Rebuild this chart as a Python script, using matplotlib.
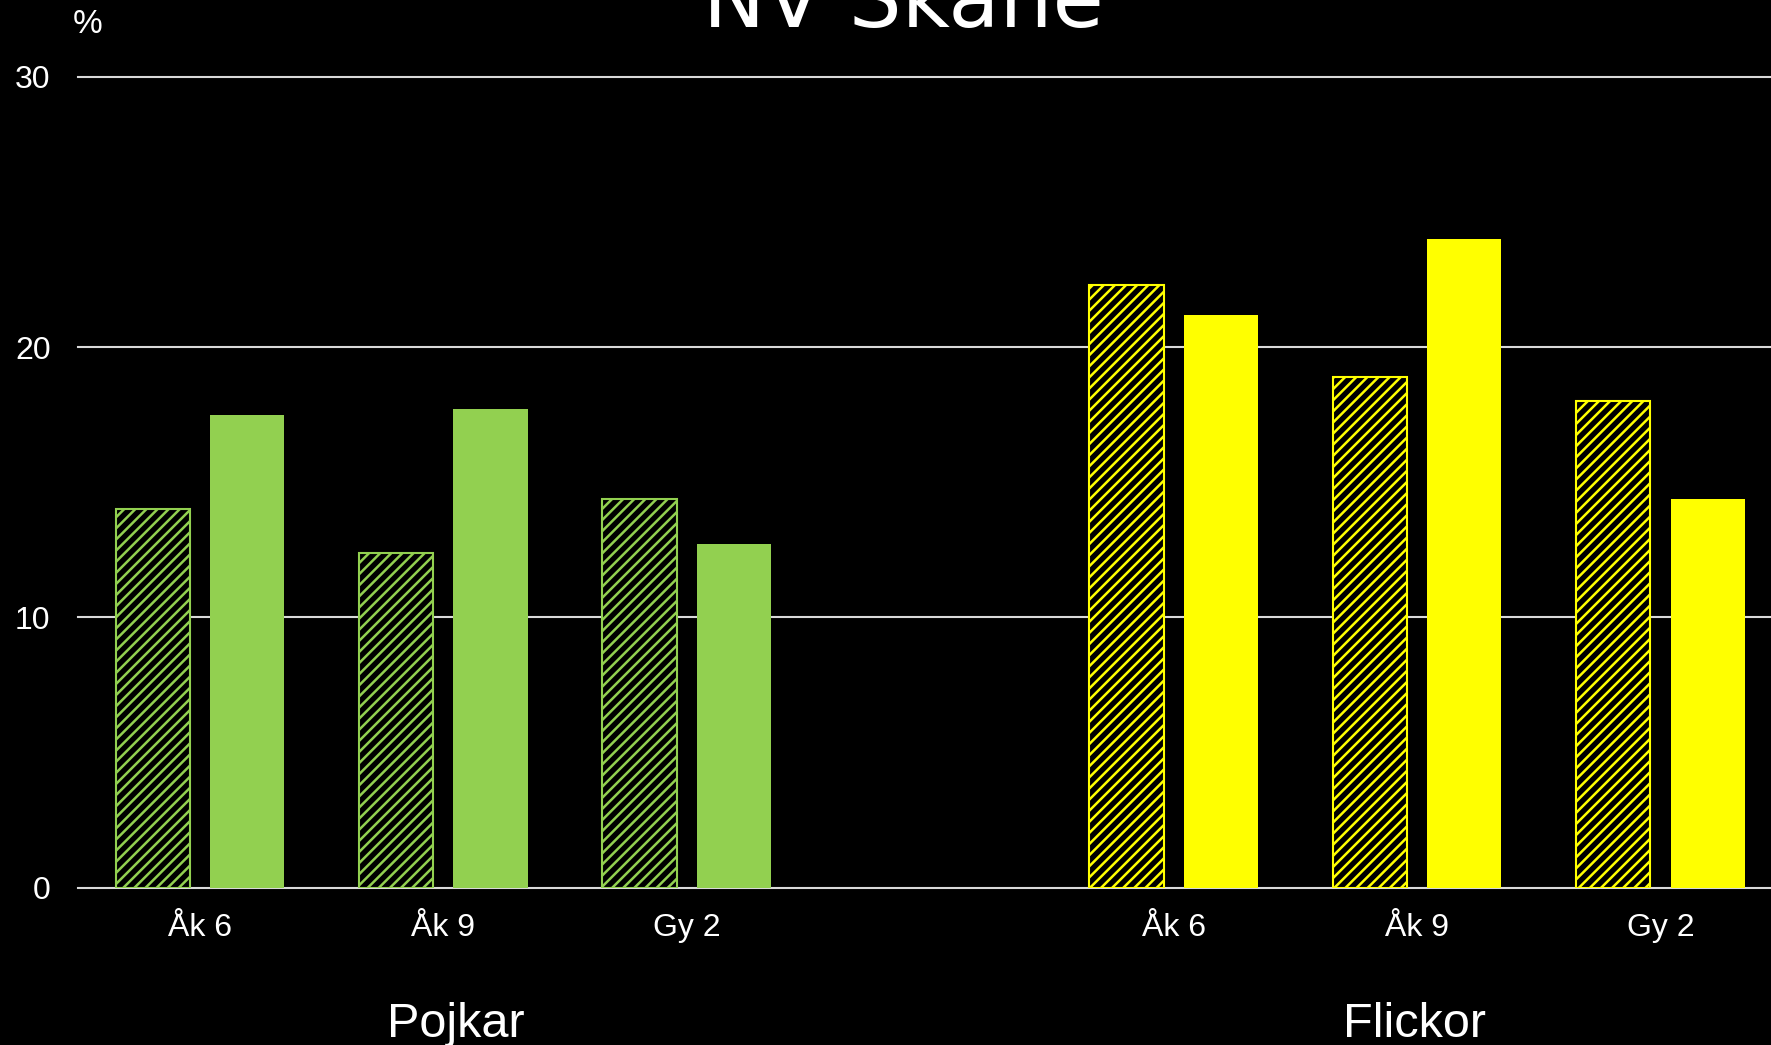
import matplotlib
matplotlib.use("Agg")
import matplotlib.pyplot as plt
import matplotlib.transforms as mtransforms
import numpy as np

# data (percent)
categories = ["Åk 6", "Åk 9", "Gy 2", "Åk 6", "Åk 9", "Gy 2"]
slots = [0, 1, 2, 4, 5, 6]            # slot 3 is left empty between the groups
hatched_vals = [14.0, 12.4, 14.4, 22.3, 18.9, 18.0]
solid_vals = [17.5, 17.7, 12.7, 21.2, 24.0, 14.4]
bar_colors = ["#92d050"] * 3 + ["#ffff00"] * 3
groups = ["Pojkar", "Flickor"]
group_pos = [1.05, 4.99]
yticks = [0, 10, 20, 30]

plt.rcParams["font.family"] = ["Liberation Sans", "DejaVu Sans"]
plt.rcParams["hatch.linewidth"] = 1.8

fig = plt.figure(figsize=(17.71, 10.45), dpi=100, facecolor="black")
ax = fig.add_axes([0.0442, 0.1504, 0.9621, 0.7761], facecolor="black")

x = np.array(slots, dtype=float)
w = 0.305
off = 0.194
for xi, hv, sv, c in zip(x, hatched_vals, solid_vals, bar_colors):
    ax.bar(xi - off, hv, width=w, color="black", edgecolor=c, hatch="///",
           linewidth=1.5, zorder=3)
    ax.bar(xi + off, sv, width=w, color=c, edgecolor="none", zorder=3)

ax.set_xlim(-0.5, 6.5)
ax.set_ylim(0, 30)
ax.set_yticks(yticks)
ax.set_xticks(slots)
ax.set_xticklabels(categories)
ax.tick_params(axis="both", length=0, colors="white", labelsize=23)
ax.tick_params(axis="y", pad=20)
ax.tick_params(axis="x", pad=18)
for s in ax.spines.values():
    s.set_visible(False)
ax.yaxis.grid(True, color="#d9d9d9", linewidth=1.5)
ax.set_axisbelow(True)
for gl in ax.get_ygridlines():
    gl.set_clip_on(False)

trans = mtransforms.blended_transform_factory(ax.transData, fig.transFigure)
for g, gp in zip(groups, group_pos):
    ax.text(gp, 0.008, g, transform=trans, ha="center", va="baseline",
            color="white", fontsize=35)

fig.text(0.0497, 0.9615, "%", ha="center", va="bottom", color="white", fontsize=24)
fig.text(0.51, 0.9746, "NV Skåne", ha="center", va="baseline", color="white",
         fontsize=60, family="DejaVu Sans")

fig.savefig("out.png", dpi=100, facecolor="black")
